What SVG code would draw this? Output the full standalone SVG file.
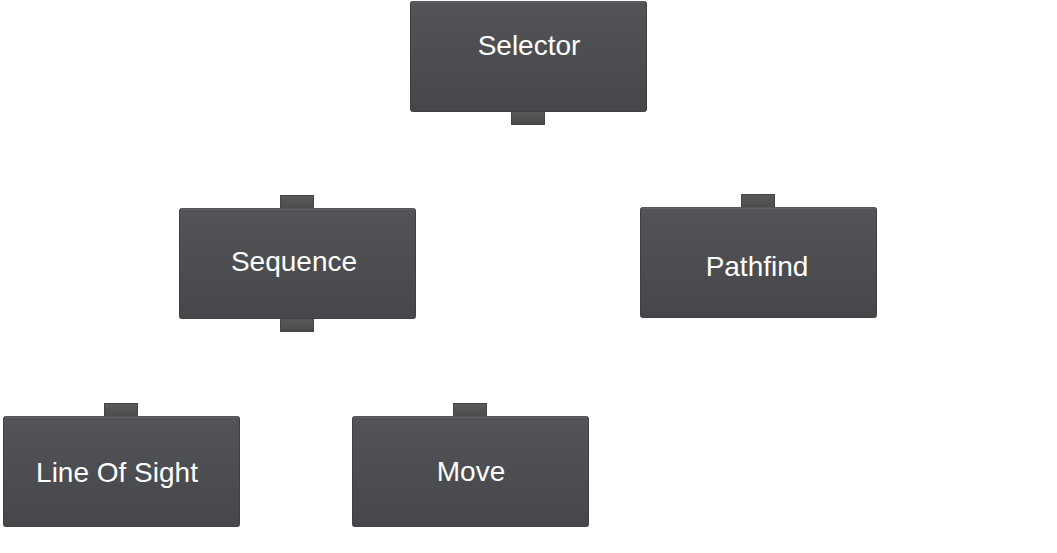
<svg xmlns="http://www.w3.org/2000/svg" width="1057" height="553" viewBox="0 0 1057 553">
  <defs>
    <linearGradient id="bodyFill" x1="0" y1="0" x2="0" y2="1">
      <stop offset="0" stop-color="#535457"/>
      <stop offset="1" stop-color="#46474a"/>
    </linearGradient>
    <linearGradient id="tabFill" x1="0" y1="0" x2="0" y2="1">
      <stop offset="0" stop-color="#5a5a5b"/>
      <stop offset="1" stop-color="#4a4a4b"/>
    </linearGradient>
    <style>
      .body { fill: url(#bodyFill); stroke: #3e3f42; stroke-width: 1; }
      .hl { stroke: #6c6d70; stroke-width: 1; }
      .tab { fill: url(#tabFill); stroke: #444445; stroke-width: 1; }
      .label { font-family: "Liberation Sans", Arial, sans-serif; font-size: 28px; fill: #ffffff; text-anchor: middle; }
    </style>
  </defs>
  <rect width="1057" height="553" fill="#ffffff"/>

  <g id="connectors"></g>

  <g id="selector">
    <rect class="tab" x="511.5" y="110.5" width="33" height="14"/>
    <rect class="body" x="410.5" y="1.5" width="236" height="110" rx="2"/>
    <line class="hl" x1="412" y1="2" x2="645" y2="2"/>
    <text class="label" x="529" y="55">Selector</text>
  </g>

  <g id="sequence">
    <rect class="tab" x="280.5" y="195.5" width="33" height="14"/>
    <rect class="tab" x="280.5" y="317.5" width="33" height="14"/>
    <rect class="body" x="179.5" y="208.5" width="236" height="110" rx="2"/>
    <line class="hl" x1="181" y1="209" x2="414" y2="209"/>
    <text class="label" x="294" y="271">Sequence</text>
  </g>

  <g id="pathfind">
    <rect class="tab" x="741.5" y="194.5" width="33" height="14"/>
    <rect class="body" x="640.5" y="207.5" width="236" height="110" rx="2"/>
    <line class="hl" x1="642" y1="208" x2="875" y2="208"/>
    <text class="label" x="757" y="276">Pathfind</text>
  </g>

  <g id="line-of-sight">
    <rect class="tab" x="104.5" y="403.5" width="33" height="14"/>
    <rect class="body" x="3.5" y="416.5" width="236" height="110" rx="2"/>
    <line class="hl" x1="5" y1="417" x2="238" y2="417"/>
    <text class="label" x="117" y="482">Line Of Sight</text>
  </g>

  <g id="move">
    <rect class="tab" x="453.5" y="403.5" width="33" height="14"/>
    <rect class="body" x="352.5" y="416.5" width="236" height="110" rx="2"/>
    <line class="hl" x1="354" y1="417" x2="587" y2="417"/>
    <text class="label" x="471" y="481">Move</text>
  </g>
</svg>
